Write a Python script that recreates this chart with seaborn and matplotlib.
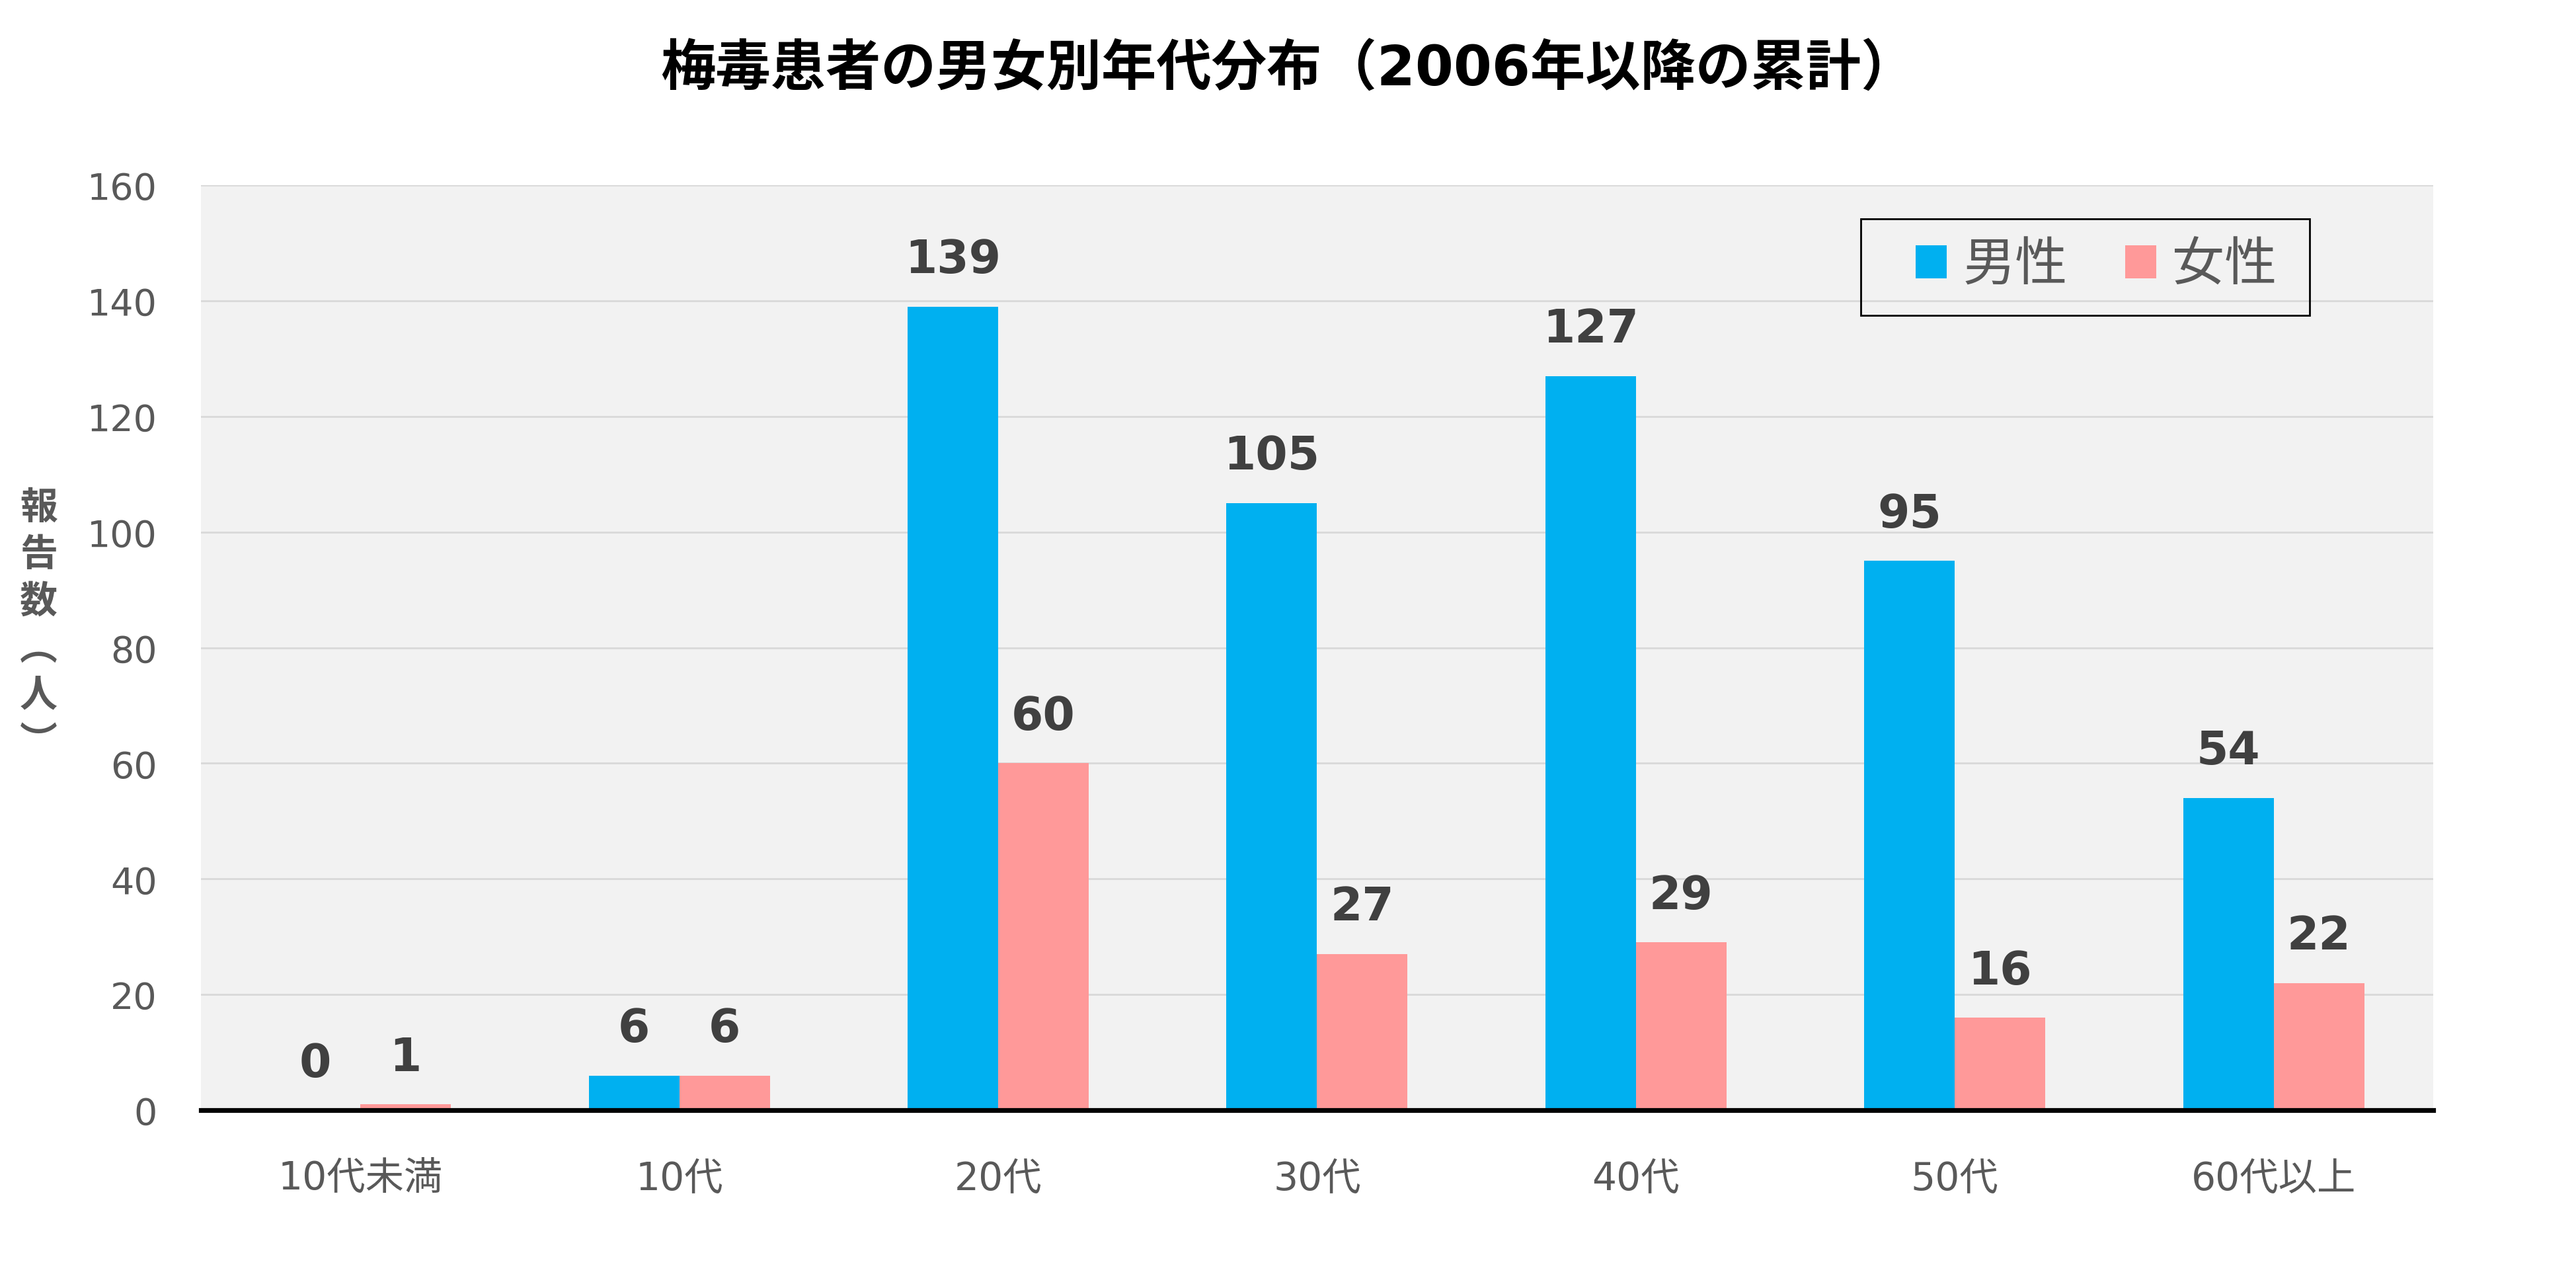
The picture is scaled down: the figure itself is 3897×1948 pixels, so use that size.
import matplotlib
matplotlib.use('Agg')
import matplotlib.pyplot as plt
from matplotlib.patches import Rectangle
import seaborn as sns
import pandas as pd

# data
age_groups = ['10代未満', '10代', '20代', '30代', '40代', '50代', '60代以上']
male = [0, 6, 139, 105, 127, 95, 54]
female = [1, 6, 60, 27, 29, 16, 22]
series_names = ['男性', '女性']
y_ticks = [0, 20, 40, 60, 80, 100, 120, 140, 160]

df = pd.DataFrame({
    '年代': age_groups * 2,
    '性別': [series_names[0]] * len(age_groups) + [series_names[1]] * len(age_groups),
    '人数': male + female,
})

sns.set_style('white')
plt.rcParams['font.family'] = ['DejaVu Sans', 'Noto Sans CJK JP']

fig = plt.figure(figsize=(19.49, 9.745), dpi=200)
ax = fig.add_axes([0.078, 0.138, 0.8663, 0.7178])
ax.set_facecolor('#F2F2F2')

sns.barplot(data=df, x='年代', y='人数', hue='性別', palette=['#00B0F0', '#FF9999'],
            width=0.568, saturation=1, errorbar=None, linewidth=0, ax=ax)

for c in ax.containers:
    ax.bar_label(c, padding=13.5, fontsize=25, fontweight='bold', color='#404040')

ax.set_ylim(0, 160)
ax.set_xlim(-0.5, len(age_groups) - 0.5)
ax.set_yticks(y_ticks)
ax.yaxis.grid(True, color='#D9D9D9', linewidth=1.0)
ax.set_axisbelow(True)
for s in ['top', 'right', 'left']:
    ax.spines[s].set_visible(False)
ax.spines['bottom'].set_color('black')
ax.spines['bottom'].set_linewidth(2.6)
ax.spines['bottom'].set_zorder(5)
ax.tick_params(axis='y', length=0, pad=24, labelsize=20, labelcolor='#595959')
ax.tick_params(axis='x', length=0, pad=27, labelsize=21, labelcolor='#595959')
ax.set_xlabel('')
ax.set_ylabel('')

# legend (frame drawn separately so the padding can match)
handles, labels = ax.get_legend_handles_labels()
leg = ax.legend(handles, labels, loc='center', bbox_to_anchor=(0.849, 0.913),
                fontsize=28.5, ncol=2, frameon=False,
                handlelength=0.6, handleheight=0.6, handletextpad=0.3,
                columnspacing=1.1, borderpad=0, borderaxespad=0)
for t in leg.get_texts():
    t.set_color('#595959')
ax.add_patch(Rectangle((0.7436, 0.859), 0.201, 0.1045, transform=ax.transAxes,
                       facecolor='none', edgecolor='black', linewidth=1.0,
                       zorder=6, clip_on=False))

fig.suptitle('梅毒患者の男女別年代分布（2006年以降の累計）', x=0.5, y=0.946, va='center',
             fontsize=30, fontweight='bold', color='black')

fig.text(0.015, 0.515, '報\n告\n数\n︵\n人\n︶', ha='center', va='center',
         fontsize=20.5, fontweight='bold', color='#595959', linespacing=1.28,
         family=['Noto Sans CJK JP', 'DejaVu Sans'])

fig.savefig('out.png', dpi=200, facecolor='white')
